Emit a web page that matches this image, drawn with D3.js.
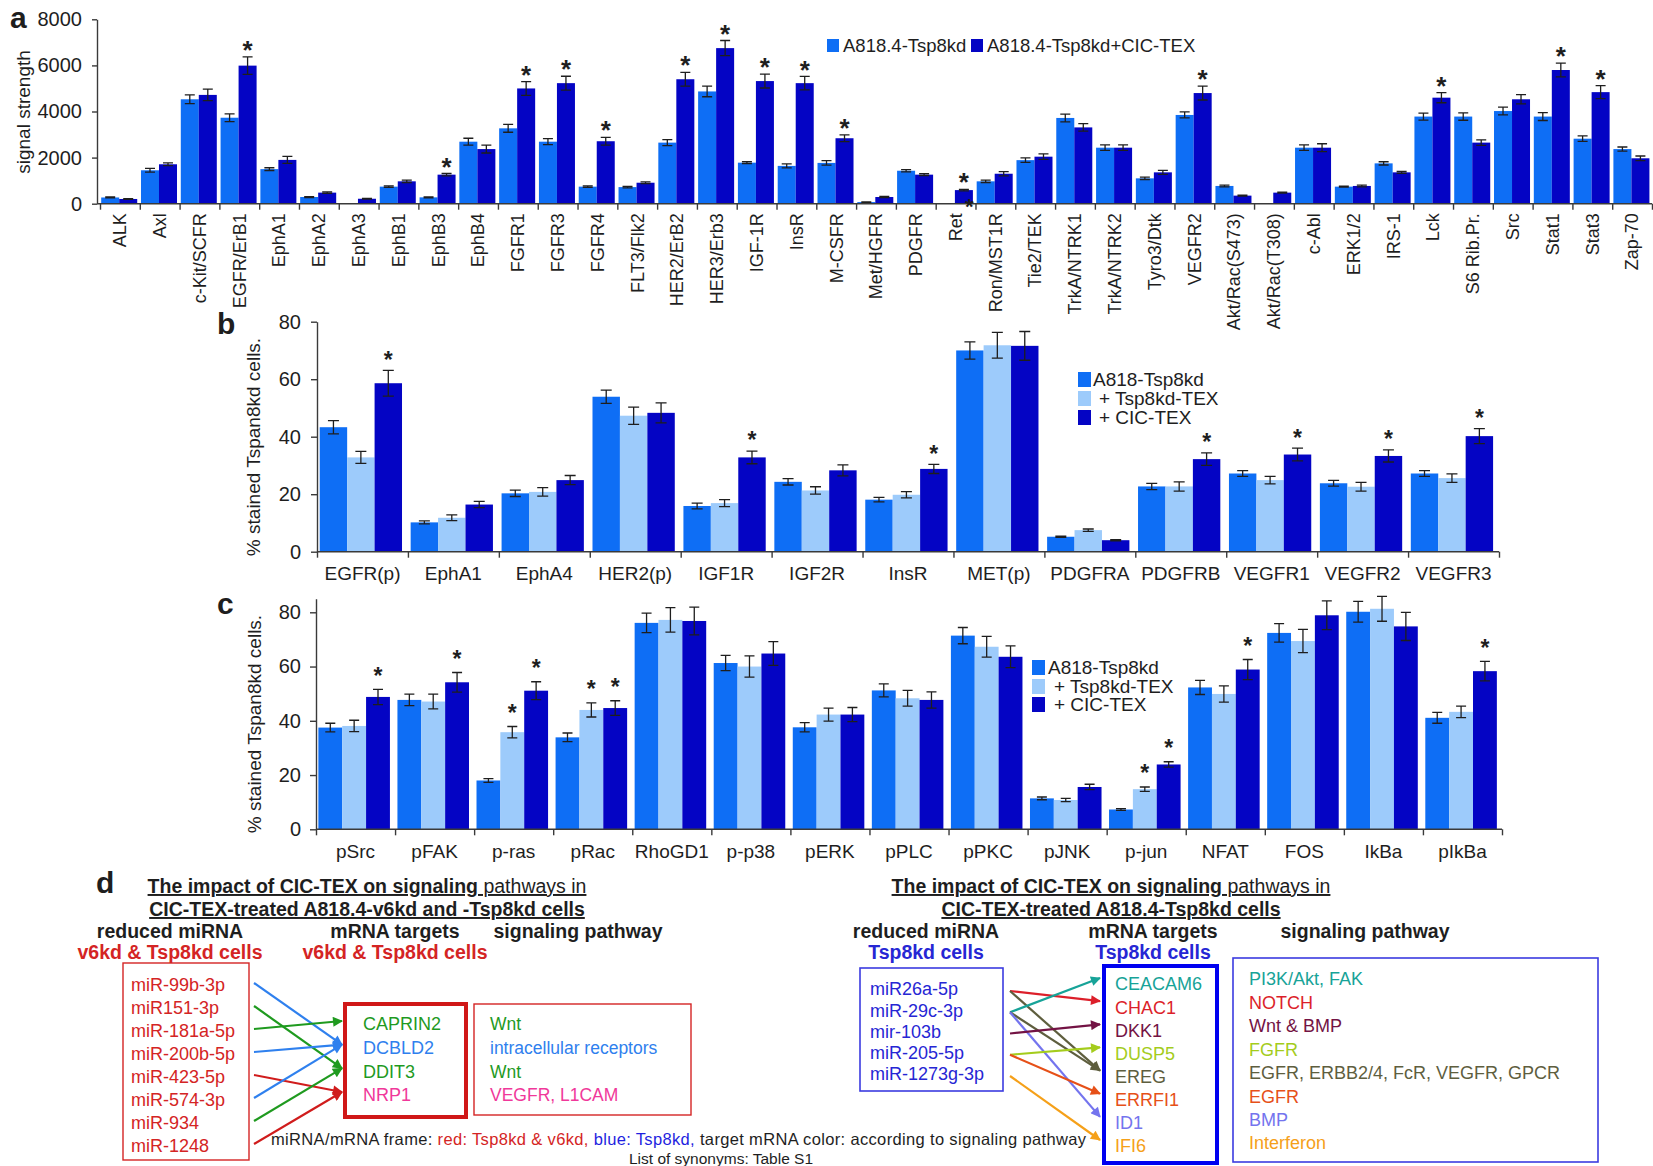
<!DOCTYPE html>
<html>
<head>
<meta charset="utf-8">
<script src="https://cdn.jsdelivr.net/npm/d3@7"></script>
<style>
  html, body { margin: 0; padding: 0; background: #fff; }
  svg { display: block; font-family: "Liberation Sans", Arial, Helvetica, sans-serif; }
</style>
</head>
<body>
<svg id="fig" width="1653" height="1166"></svg>
<script>
// ---------- panel a: kinase array signal strength ----------
const kinaseCats = ["ALK","Axl","c-Kit/SCFR","EGFR/ErB1","EphA1","EphA2","EphA3","EphB1","EphB3","EphB4",
  "FGFR1","FGFR3","FGFR4","FLT3/Flk2","HER2/ErB2","HER3/Erb3","IGF-1R","InsR","M-CSFR","Met/HGFR",
  "PDGFR","Ret","Ron/MST1R","Tie2/TEK","TrkA/NTRK1","TrkA/NTRK2","Tyro3/Dtk","VEGFR2","Akt/Rac(S473)","Akt/Rac(T308)",
  "c-Abl","ERK1/2","IRS-1","Lck","S6 Rib.Pr.","Src","Stat1","Stat3","Zap-70"];
const kinaseKd = [270,1450,4530,3730,1500,290,0,740,275,2690,
  3270,2690,740,720,2650,4870,1780,1640,1770,70,
  1430,0,970,1890,3720,2430,1100,3850,770,0,
  2430,740,1750,3780,3780,4020,3780,2820,2370];
const kinaseCic = [205,1710,4720,5990,1900,480,215,970,1260,2370,
  5000,5230,2710,910,5400,6750,5320,5230,2840,290,
  1260,590,1300,2040,3310,2430,1360,4800,350,480,
  2430,770,1360,4600,2650,4530,5800,4840,1970];
const kinaseKdErr = [20,80,190,170,60,20,0,30,20,150,
  170,130,30,30,130,230,40,90,100,10,
  50,0,50,100,170,120,50,130,40,0,
  120,20,70,150,160,170,170,120,90];
const kinaseCicErr = [15,60,250,380,150,30,15,50,50,170,
  300,300,170,40,300,330,300,290,150,30,
  40,30,90,120,160,120,90,300,20,20,
  170,40,40,220,120,200,300,280,100];
const kinaseStars = ["EGFR/ErB1","EphB3","FGFR1","FGFR3","FGFR4","HER2/ErB2","HER3/Erb3","IGF-1R","InsR",
  "M-CSFR","Ret","VEGFR2","Lck","Stat1","Stat3"];
const kinaseTicks = [0,2000,4000,6000,8000];
const kinaseLegend = ["A818.4-Tsp8kd","A818.4-Tsp8kd+CIC-TEX"];

// ---------- panel b: receptor staining ----------
const receptorCats = ["EGFR(p)","EphA1","EphA4","HER2(p)","IGF1R","IGF2R","InsR","MET(p)","PDGFRA","PDGFRB","VEGFR1","VEGFR2","VEGFR3"];
const receptorKd  = [43.3,10.2,20.3,53.9,15.9,24.3,18.1,70.0,5.2,22.7,27.2,23.8,27.2];
const receptorTsp = [32.8,11.8,20.8,47.3,16.9,21.3,19.8,71.8,7.5,22.7,24.9,22.6,25.6];
const receptorCic = [58.6,16.4,24.9,48.3,32.8,28.3,28.8,71.6,4.0,32.2,33.8,33.3,40.2];
const receptorKdErr  = [2.3,0.5,1.1,2.3,1.0,1.1,0.8,3.0,0.2,1.1,1.0,1.0,1.0];
const receptorTspErr = [2.1,1.0,1.5,3.0,1.2,1.3,1.1,4.5,0.4,1.6,1.3,1.5,1.5];
const receptorCicErr = [4.5,1.1,1.6,3.5,2.2,1.9,1.6,5.0,0.2,2.2,2.2,2.1,2.6];
const receptorStars = ["EGFR(p)","IGF1R","InsR","PDGFRB","VEGFR1","VEGFR2","VEGFR3"];
const percentTicks = [0,20,40,60,80];

// ---------- panel c: signaling molecule staining ----------
const signalCats = ["pSrc","pFAK","p-ras","pRac","RhoGD1","p-p38","pERK","pPLC","pPKC","pJNK","p-jun","NFAT","FOS","IkBa","pIkBa"];
const signalKd  = [37.5,47.7,18.0,33.9,76.1,61.3,37.6,51.2,71.4,11.4,7.3,52.3,72.4,80.2,41.1];
const signalTsp = [38.1,47.1,35.8,44.0,77.2,60.0,42.3,48.3,67.3,10.8,14.8,49.9,69.4,81.3,43.3];
const signalCic = [48.8,54.2,51.1,44.7,76.8,64.8,42.3,47.7,63.6,15.6,23.9,58.9,78.9,74.8,58.3];
const signalKdErr  = [1.6,2.1,0.7,1.6,3.6,2.8,1.7,2.4,3.0,0.5,0.3,2.6,3.4,3.8,2.0];
const signalTspErr = [2.1,2.7,2.1,2.6,4.5,3.9,2.4,2.9,3.8,0.6,0.8,3.0,4.3,4.6,2.1];
const signalCicErr = [2.8,3.6,3.3,2.7,5.1,4.4,2.6,3.0,4.0,1.0,1.0,3.7,5.3,5.2,3.6];
// [category, series index] pairs marked significant
const signalStars = [["pSrc",2],["pFAK",2],["p-ras",1],["p-ras",2],["pRac",1],["pRac",2],["p-jun",1],["p-jun",2],["NFAT",2],["pIkBa",2]];
const stainLegend = ["A818-Tsp8kd","+ Tsp8kd-TEX","+ CIC-TEX"];

// ---------- panel d: miRNA / mRNA / pathway diagrams ----------
const leftMirnas = ["miR-99b-3p","miR151-3p","miR-181a-5p","miR-200b-5p","miR-423-5p","miR-574-3p","miR-934","miR-1248"];
const leftTargets = ["CAPRIN2","DCBLD2","DDIT3","NRP1"];
const leftPathways = ["Wnt","intracellular receptors","Wnt","VEGFR, L1CAM"];
const leftLinks = [["miR-99b-3p","DCBLD2"],["miR151-3p","DDIT3"],["miR-181a-5p","CAPRIN2"],["miR-200b-5p","DCBLD2"],
  ["miR-423-5p","NRP1"],["miR-574-3p","DCBLD2"],["miR-934","DDIT3"],["miR-1248","NRP1"]];
const rightMirnas = ["miR26a-5p","miR-29c-3p","mir-103b","miR-205-5p","miR-1273g-3p"];
const rightTargets = ["CEACAM6","CHAC1","DKK1","DUSP5","EREG","ERRFI1","ID1","IFI6"];
const rightPathways = ["PI3K/Akt, FAK","NOTCH","Wnt & BMP","FGFR","EGFR, ERBB2/4, FcR, VEGFR, GPCR","EGFR","BMP","Interferon"];
const rightLinks = [["miR26a-5p","CHAC1"],["miR26a-5p","EREG"],["miR-29c-3p","CEACAM6"],["miR-29c-3p","EREG"],
  ["miR-29c-3p","ID1"],["mir-103b","DKK1"],["miR-205-5p","DUSP5"],["miR-205-5p","ERRFI1"],["miR-1273g-3p","IFI6"]];

// ---------- styling ----------
const COL_KD = "#0e6ef5", COL_TSP = "#9dcbfb", COL_CIC = "#0404c4";
const AXIS = "#3a3a3a", INK = "#1e1e1e";
const RED = "#d42424", BLUE_TXT = "#2626d4";
const leftTextColor = { CAPRIN2: "#1f9a1f", DCBLD2: "#2f80ee", DDIT3: "#1f9a1f", NRP1: "#f0389a" };
const leftArrowColor = { CAPRIN2: "#1f9a1f", DCBLD2: "#2f80ee", DDIT3: "#1f9a1f", NRP1: "#d01c1c" };
const rightPalette = ["#17a398","#dc1f2a","#731344","#a4cc1c","#5e5e3e","#e65018","#7474ee","#f5a019"];

const svg = d3.select("#fig");

function styleAxis(sel, size) {
  sel.attr("font-family", null).attr("font-size", null);
  sel.selectAll("line,path").attr("stroke", AXIS).attr("stroke-width", 1.4);
  sel.selectAll("text").attr("fill", INK).style("font-size", size + "px");
}

// grouped bars with error bars and significance stars
function groupedPanel(cfg) {
  const g = svg.append("g");
  const x = d3.scaleBand().domain(cfg.cats).range([cfg.left, cfg.right]).padding(0);
  const inner = d3.scaleBand().domain(d3.range(cfg.series.length))
    .range([x.step() * 0.03, x.step() * 0.935]).padding(0);
  const y = d3.scaleLinear().domain(cfg.yDomain).range([cfg.yBase, cfg.yTop]);

  cfg.series.forEach((s, si) => {
    g.append("g").selectAll("rect").data(cfg.cats).join("rect")
      .attr("x", c => x(c) + inner(si))
      .attr("width", inner.bandwidth())
      .attr("y", (c, i) => y(s.values[i]))
      .attr("height", (c, i) => y(0) - y(s.values[i]))
      .attr("fill", s.color);
  });

  cfg.series.forEach((s, si) => {
    g.append("g").attr("fill", "none").attr("stroke", INK).attr("stroke-width", 1.3)
      .selectAll("path").data(cfg.cats.filter((c, i) => s.errs[i] > 0)).join("path")
      .attr("d", c => {
        const i = cfg.cats.indexOf(c);
        const cx = x(c) + inner(si) + inner.bandwidth() / 2;
        const hi = y(s.values[i] + s.errs[i]), lo = y(Math.max(0, s.values[i] - s.errs[i]));
        const h = cfg.cap;
        return `M${cx - h},${hi}H${cx + h}M${cx},${hi}V${lo}M${cx - h},${lo}H${cx + h}`;
      });
  });

  // y axis
  const ya = g.append("g").attr("transform", `translate(${cfg.axisX},0)`)
    .call(d3.axisLeft(y).tickValues(cfg.yTicks).tickFormat(d3.format("d"))
      .tickSize(cfg.yTickLen).tickSizeOuter(0).tickPadding(cfg.yPad));
  styleAxis(ya, cfg.yFont);

  // x axis with ticks at category boundaries
  const xb = d3.scaleLinear().domain([0, cfg.cats.length]).range([cfg.left, cfg.right]);
  const xa = g.append("g").attr("transform", `translate(0,${cfg.yBase})`)
    .call(d3.axisBottom(xb).tickValues(d3.range(cfg.cats.length + 1)).tickSize(6).tickSizeOuter(0).tickFormat(""));
  styleAxis(xa, 10);
  xa.select(".domain").attr("d", `M${cfg.axisX},0H${cfg.right}`);

  // category labels
  const la = g.append("g").attr("transform", `translate(0,${cfg.yBase})`)
    .call(d3.axisBottom(x).tickSize(0).tickPadding(cfg.labelPad));
  la.select(".domain").remove();
  styleAxis(la, cfg.labelFont);
  if (cfg.rotate) {
    la.selectAll("text").attr("transform", "rotate(-90)").attr("x", -cfg.labelPad).attr("y", 0)
      .attr("dy", "0.35em").attr("text-anchor", "end");
  }

  // significance stars
  const starY = (si, i) => y(cfg.series[si].values[i] + cfg.series[si].errs[i]) - cfg.starGap + 0.58 * cfg.starSize;
  g.append("g").selectAll("text").data(cfg.stars).join("text")
    .attr("x", d => x(d[0]) + inner(d[1]) + inner.bandwidth() / 2)
    .attr("y", d => starY(d[1], cfg.cats.indexOf(d[0])))
    .attr("text-anchor", "middle").attr("font-weight", "bold")
    .attr("font-size", cfg.starSize).attr("fill", INK).text("*");

  return { g, x, y, inner };
}

// ---------- panel a ----------
const pa = groupedPanel({
  cats: kinaseCats,
  series: [
    { values: kinaseKd, errs: kinaseKdErr, color: COL_KD },
    { values: kinaseCic, errs: kinaseCicErr, color: COL_CIC }
  ],
  axisX: 97, left: 100, right: 1652, yBase: 203.7, yTop: 19.3, yDomain: [0, 8000], yTicks: kinaseTicks,
  yTickLen: 5, yPad: 10, yFont: 20, labelPad: 9.5, labelFont: 18, rotate: true,
  cap: 5, starGap: 13, starSize: 26,
  stars: kinaseStars.map(c => [c, 1])
});
// Ret light bar is flagged at the baseline
pa.g.append("text")
  .attr("x", pa.x("Ret") + pa.inner(1) + pa.inner.bandwidth() * 0.8)
  .attr("y", pa.y(0) + 0.58 * 22 - 2)
  .attr("text-anchor", "middle").attr("font-weight", "bold").attr("font-size", 22).attr("fill", INK).text("*");

svg.append("text").attr("x", 10).attr("y", 28).attr("font-size", 30).attr("font-weight", "bold").attr("fill", INK).text("a");
svg.append("text").attr("transform", "translate(30,112) rotate(-90)").attr("text-anchor", "middle")
  .attr("font-size", 19).attr("fill", INK).text("signal strength");

const legA = svg.append("g");
[[827, 843, COL_KD], [971, 987, COL_CIC]].forEach((p, i) => {
  legA.append("rect").attr("x", p[0]).attr("y", 39).attr("width", 12).attr("height", 13).attr("fill", p[2]);
  legA.append("text").attr("x", p[1]).attr("y", 52).attr("font-size", 18.5).attr("fill", INK).text(kinaseLegend[i]);
});

// ---------- panel b ----------
groupedPanel({
  cats: receptorCats,
  series: [
    { values: receptorKd, errs: receptorKdErr, color: COL_KD },
    { values: receptorTsp, errs: receptorTspErr, color: COL_TSP },
    { values: receptorCic, errs: receptorCicErr, color: COL_CIC }
  ],
  axisX: 317, left: 317, right: 1499, yBase: 551.7, yTop: 321.7, yDomain: [0, 80], yTicks: percentTicks,
  yTickLen: 6, yPad: 10, yFont: 20, labelPad: 15, labelFont: 19, rotate: false,
  cap: 5.5, starGap: 16, starSize: 23,
  stars: receptorStars.map(c => [c, 2])
});
svg.append("text").attr("x", 217).attr("y", 334).attr("font-size", 30).attr("font-weight", "bold").attr("fill", INK).text("b");
svg.append("text").attr("transform", "translate(260,447) rotate(-90)").attr("text-anchor", "middle")
  .attr("font-size", 19).attr("fill", INK).text("% stained Tspan8kd cells.");

function stainLegendAt(x, textX, plusX, rows) {
  const lg = svg.append("g");
  [COL_KD, COL_TSP, COL_CIC].forEach((c, i) => {
    lg.append("rect").attr("x", x).attr("y", rows[i] - 7).attr("width", 13).attr("height", 15).attr("fill", c);
    lg.append("text").attr("x", i === 0 ? textX : plusX).attr("y", rows[i] + 7)
      .attr("font-size", 19).attr("fill", INK).text(stainLegend[i]);
  });
}
stainLegendAt(1078, 1093, 1099, [379, 398, 417]);

// ---------- panel c ----------
groupedPanel({
  cats: signalCats,
  series: [
    { values: signalKd, errs: signalKdErr, color: COL_KD },
    { values: signalTsp, errs: signalTspErr, color: COL_TSP },
    { values: signalCic, errs: signalCicErr, color: COL_CIC }
  ],
  axisX: 316, left: 316, right: 1502, yBase: 829.3, yTop: 829.3 - 85 * 2.7125, yDomain: [0, 85], yTicks: percentTicks,
  yTickLen: 6, yPad: 9, yFont: 20, labelPad: 15, labelFont: 19, rotate: false,
  cap: 5, starGap: 19, starSize: 23,
  stars: signalStars
});
svg.append("text").attr("x", 217).attr("y", 614).attr("font-size", 30).attr("font-weight", "bold").attr("fill", INK).text("c");
svg.append("text").attr("transform", "translate(261,724) rotate(-90)").attr("text-anchor", "middle")
  .attr("font-size", 19).attr("fill", INK).text("% stained Tspan8kd cells.");
stainLegendAt(1032, 1048, 1054, [667, 686, 704]);

// ---------- panel d ----------
svg.append("text").attr("x", 96).attr("y", 893).attr("font-size", 30).attr("font-weight", "bold").attr("fill", INK).text("d");

const defs = svg.append("defs");
const markerIds = new Map();
function arrowMarker(color) {
  if (markerIds.has(color)) return markerIds.get(color);
  const id = "arr" + markerIds.size;
  defs.append("marker").attr("id", id).attr("viewBox", "0 0 10 10").attr("refX", 9).attr("refY", 5)
    .attr("markerWidth", 12).attr("markerHeight", 10).attr("markerUnits", "userSpaceOnUse").attr("orient", "auto")
    .append("path").attr("d", "M0,0L10,5L0,10z").attr("fill", color);
  markerIds.set(color, id);
  return id;
}

function header(cx, lines) {
  const t1 = svg.append("text").attr("x", cx).attr("y", 893).attr("text-anchor", "middle")
    .attr("font-size", 19.5).attr("fill", INK).style("text-decoration", "underline");
  t1.append("tspan").attr("font-weight", "bold").text("The impact of CIC-TEX on signaling");
  t1.append("tspan").text(" pathways in");
  svg.append("text").attr("x", cx).attr("y", 916).attr("text-anchor", "middle")
    .attr("font-size", 19.5).attr("font-weight", "bold").attr("fill", INK)
    .style("text-decoration", "underline").text(lines);
}
function colHead(cx, label, sub, subColor) {
  svg.append("text").attr("x", cx).attr("y", 938).attr("text-anchor", "middle")
    .attr("font-size", 19.5).attr("font-weight", "bold").attr("fill", INK).text(label);
  if (sub) svg.append("text").attr("x", cx).attr("y", 959).attr("text-anchor", "middle")
    .attr("font-size", 19.5).attr("font-weight", "bold").attr("fill", subColor).text(sub);
}
function box(x0, y0, x1, y1, color, w) {
  svg.append("rect").attr("x", x0).attr("y", y0).attr("width", x1 - x0).attr("height", y1 - y0)
    .attr("fill", "none").attr("stroke", color).attr("stroke-width", w);
}
function column(items, yScale, x, colorOf, size) {
  svg.append("g").selectAll("text").data(items).join("text")
    .attr("x", x).attr("y", (d, i) => yScale(i)).attr("dy", "0.36em")
    .attr("font-size", size).attr("fill", (d, i) => colorOf(d, i)).text(d => d);
}
function links(list, srcScale, srcNames, tgtScale, tgtNames, x0, x1, dy0, dy1, colorOf) {
  svg.append("g").attr("fill", "none").attr("stroke-width", 2.2)
    .selectAll("line").data(list).join("line")
    .attr("x1", x0).attr("y1", d => srcScale(srcNames.indexOf(d[0])) + dy0)
    .attr("x2", x1).attr("y2", d => tgtScale(tgtNames.indexOf(d[1])) + dy1)
    .attr("stroke", d => colorOf(d[1]))
    .attr("marker-end", d => `url(#${arrowMarker(colorOf(d[1]))})`);
}

// left diagram
header(367, "CIC-TEX-treated A818.4-v6kd and -Tsp8kd cells");
colHead(170, "reduced miRNA", "v6kd & Tsp8kd cells", RED);
colHead(395, "mRNA targets", "v6kd & Tsp8kd cells", RED);
colHead(578, "signaling pathway", null, null);
box(123, 963, 249, 1160, RED, 1.4);
box(345, 1004, 466, 1117, "#d01818", 4);
box(474, 1004, 691, 1115, RED, 1.4);
const lMirY = d3.scaleLinear().domain([0, leftMirnas.length - 1]).range([985, 1146]);
const lTgtY = d3.scaleLinear().domain([0, leftTargets.length - 1]).range([1024, 1095]);
column(leftMirnas, lMirY, 131, () => RED, 18);
column(leftTargets, lTgtY, 363, d => leftTextColor[d], 18);
column(leftPathways, lTgtY, 490, (d, i) => leftTextColor[leftTargets[i]], 17.5);
links(leftLinks, lMirY, leftMirnas, lTgtY, leftTargets, 254, 342, -2, -3, t => leftArrowColor[t]);

// right diagram
header(1111, "CIC-TEX-treated A818.4-Tsp8kd cells");
colHead(926, "reduced miRNA", "Tsp8kd cells", BLUE_TXT);
colHead(1153, "mRNA targets", "Tsp8kd cells", BLUE_TXT);
colHead(1365, "signaling pathway", null, null);
box(860, 968, 1003, 1091, "#3b3be0", 1.6);
box(1104, 966, 1217, 1163, "#0000f0", 4);
box(1233, 958, 1598, 1162, "#3b3be0", 1.6);
const rMirY = d3.scaleLinear().domain([0, rightMirnas.length - 1]).range([989, 1074]);
const rTgtY = d3.scaleLinear().domain([0, rightTargets.length - 1]).range([984, 1146]);
const rPathY = d3.scaleLinear().domain([0, rightPathways.length - 1]).range([979, 1143]);
column(rightMirnas, rMirY, 870, () => BLUE_TXT, 18);
column(rightTargets, rTgtY, 1115, (d, i) => rightPalette[i], 18);
column(rightPathways, rPathY, 1249, (d, i) => rightPalette[i], 18);
links(rightLinks, rMirY, rightMirnas, rTgtY, rightTargets, 1010, 1100, 2, -6, t => rightPalette[rightTargets.indexOf(t)]);

// footnotes
const fn = svg.append("text").attr("x", 271).attr("y", 1145).attr("font-size", 16.5).attr("fill", INK)
  .attr("textLength", 815).attr("lengthAdjust", "spacing");
fn.append("tspan").text("miRNA/mRNA frame: ");
fn.append("tspan").attr("fill", RED).text("red: Tsp8kd & v6kd, ");
fn.append("tspan").attr("fill", "#1f1fe0").text("blue: Tsp8kd, ");
fn.append("tspan").text("target mRNA color: according to signaling pathway");
svg.append("text").attr("x", 721).attr("y", 1163.5).attr("text-anchor", "middle").attr("font-size", 15.5)
  .attr("fill", INK).text("List of synonyms: Table S1");
</script>
</body>
</html>
